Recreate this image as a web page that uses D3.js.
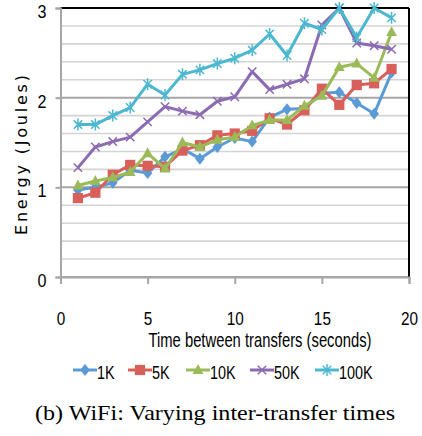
<!DOCTYPE html>
<html><head><meta charset="utf-8">
<script src="https://cdn.jsdelivr.net/npm/d3@7"></script>
<style>body{margin:0;background:#fff}svg{display:block}</style>
</head><body>
<script>
const times = [1,2,3,4,5,6,7,8,9,10,11,12,13,14,15,16,17,18,19];
const seriesNames = ["1K","5K","10K","50K","100K"];
const v1K  = [0.97,1.00,1.05,1.19,1.16,1.34,1.43,1.32,1.45,1.55,1.51,1.78,1.87,1.88,2.05,2.06,1.94,1.82,2.28];
const v5K  = [0.88,0.94,1.14,1.25,1.24,1.23,1.41,1.47,1.58,1.60,1.63,1.77,1.70,1.86,2.10,1.92,2.14,2.16,2.32];
const v10K = [1.02,1.07,1.11,1.17,1.38,1.21,1.50,1.45,1.53,1.56,1.69,1.75,1.75,1.91,2.02,2.34,2.38,2.22,2.73];
const v50K = [1.22,1.45,1.51,1.56,1.73,1.90,1.85,1.81,1.96,2.01,2.29,2.09,2.15,2.21,2.81,3.00,2.61,2.58,2.54];
const v100K= [1.70,1.70,1.80,1.89,2.15,2.03,2.26,2.31,2.38,2.44,2.53,2.71,2.47,2.83,2.76,3.00,2.67,3.00,2.89];
const xTicks = [0,5,10,15,20];
const yTicks = [0,1,2,3];
const colors = ["#5B9BD5","#D9605A","#9BBB59","#8B6BB1","#4BB8D0"];
const markers = ["diamond","square","triangle","x","star"];
const allValues = [v1K,v5K,v10K,v50K,v100K];

const W=422,H=436;
const svg=d3.select("body").append("svg").attr("width",W).attr("height",H);
const x=d3.scaleLinear().domain([0,20]).range([60.5,409]);
const y=d3.scaleLinear().domain([0,3]).range([277,8]);
const font="'Liberation Sans',Arial,sans-serif";
function condense(sel,f){
  sel.each(function(){const L=this.getComputedTextLength();
    d3.select(this).attr("textLength",L*f).attr("lengthAdjust","spacingAndGlyphs");});
}

// gridlines
const minor=d3.range(0,3.001,0.2);
svg.append("g").selectAll("line").data(minor).join("line")
  .attr("x1",x(0)).attr("x2",x(20))
  .attr("y1",d=>y(d)).attr("y2",d=>y(d))
  .attr("stroke",d=>Math.abs(d-Math.round(d))<1e-6?"#a6a6a6":"#d4d4d4")
  .attr("stroke-width",d=>Math.abs(d-Math.round(d))<1e-6?2:1.6);

// borders top/right
svg.append("line").attr("x1",x(0)).attr("x2",x(20)).attr("y1",y(3)).attr("y2",y(3)).attr("stroke","#000").attr("stroke-width",2);
svg.append("line").attr("x1",x(20)).attr("x2",x(20)).attr("y1",y(3)).attr("y2",y(0)).attr("stroke","#000").attr("stroke-width",2);

// axes
const xAxis=svg.append("g").attr("transform",`translate(0,${y(0)})`)
  .call(d3.axisBottom(x).tickValues(xTicks).tickSize(7).tickFormat(d3.format("d")));
xAxis.select(".domain").attr("stroke","#a6a6a6").attr("stroke-width",2);
xAxis.selectAll(".tick line").attr("stroke","#a6a6a6").attr("stroke-width",2);
xAxis.selectAll(".tick text").attr("y",35).attr("dy","0.71em").attr("font-size",18).attr("font-family",font).attr("fill","#000").call(condense,0.85);

const yAxis=svg.append("g").attr("transform",`translate(${x(0)},0)`)
  .call(d3.axisLeft(y).tickValues(yTicks).tickSize(5).tickFormat(d3.format("d")));
yAxis.select(".domain").attr("stroke","#a6a6a6").attr("stroke-width",2);
yAxis.selectAll(".tick text").attr("x",-14).attr("dy","0.5em").attr("font-size",19).attr("font-family",font).attr("fill","#000").call(condense,0.85);
yAxis.selectAll(".tick line").attr("stroke","#a6a6a6").attr("stroke-width",2);

// axis titles
svg.append("text").attr("transform","translate(260,347) scale(0.74,1)").attr("text-anchor","middle")
  .attr("font-size",20).attr("font-family",font).text("Time between transfers (seconds)");
svg.append("text").attr("transform","translate(27,155) rotate(-90)").attr("text-anchor","middle")
  .attr("font-size",16).attr("font-family","'DejaVu Sans',sans-serif").text("Energy (Joules)")
  .attr("textLength",160).attr("lengthAdjust","spacing");

function drawMarker(g,type,cx,cy,color,s){
  if(type==="diamond"){
    g.append("path").attr("d",`M${cx},${cy-s}L${cx+s*0.8},${cy}L${cx},${cy+s}L${cx-s*0.8},${cy}Z`).attr("fill",color);
  } else if(type==="square"){
    g.append("rect").attr("x",cx-s*0.85).attr("y",cy-s*0.85).attr("width",s*1.7).attr("height",s*1.7).attr("fill",color);
  } else if(type==="triangle"){
    g.append("path").attr("d",`M${cx},${cy-s}L${cx+s*0.9},${cy+s*0.65}L${cx-s*0.9},${cy+s*0.65}Z`).attr("fill",color);
  } else if(type==="x"){
    const r=s*0.7;
    g.append("path").attr("d",`M${cx-r},${cy-r}L${cx+r},${cy+r}M${cx-r},${cy+r}L${cx+r},${cy-r}`).attr("stroke",color).attr("stroke-width",1.5);
  } else {
    const r=s*0.7;
    g.append("path").attr("d",`M${cx-r},${cy-r}L${cx+r},${cy+r}M${cx-r},${cy+r}L${cx+r},${cy-r}M${cx},${cy-s}L${cx},${cy+s}`).attr("stroke",color).attr("stroke-width",1.5);
  }
}

const line=d3.line().x((d,i)=>x(times[i])).y(d=>y(d));
allValues.forEach((vals,k)=>{
  const g=svg.append("g");
  g.append("path").datum(vals).attr("d",line).attr("fill","none")
    .attr("stroke",colors[k]).attr("stroke-width",3).attr("stroke-linejoin","round");
  vals.forEach((v,i)=>drawMarker(g,markers[k],x(times[i]),y(v),colors[k],6));
});

// legend
const legX=[73,128,186,250,315];
seriesNames.forEach((n,k)=>{
  const g=svg.append("g");
  g.append("line").attr("x1",legX[k]).attr("x2",legX[k]+24).attr("y1",370).attr("y2",370)
    .attr("stroke",colors[k]).attr("stroke-width",3);
  drawMarker(g,markers[k],legX[k]+12,370,colors[k],6);
  g.append("text").attr("x",legX[k]+24).attr("y",379)
    .attr("font-size",18).attr("font-family",font).text(n).call(condense,0.8);
});

svg.append("text").attr("x",215).attr("y",420).attr("text-anchor","middle")
  .attr("font-size",21).attr("font-family","'Liberation Serif','Times New Roman',serif")
  .text("(b) WiFi: Varying inter-transfer times")
  .attr("textLength",360).attr("lengthAdjust","spacingAndGlyphs");
</script>
</body></html>
